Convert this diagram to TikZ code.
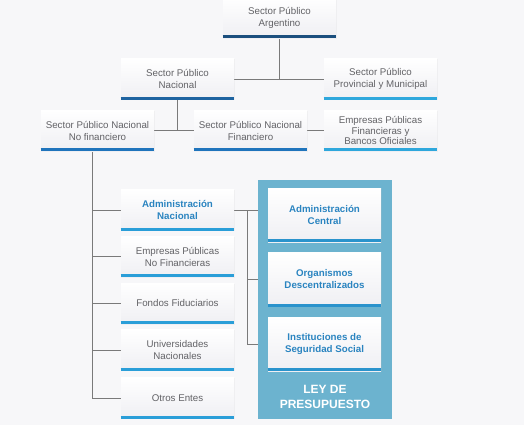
\documentclass[tikz,border=0pt]{standalone}
\usepackage{fontspec}
\setmainfont{Liberation Sans}
\usetikzlibrary{backgrounds,shadows}
\definecolor{bgc}{HTML}{F7F7F9}
\definecolor{boxb}{HTML}{EFEFF3}
\definecolor{txt}{HTML}{626266}
\definecolor{bluetxt}{HTML}{2A84C0}
\definecolor{linec}{HTML}{7A7A7A}
\definecolor{panelc}{HTML}{6CB3CF}
\definecolor{barnavy}{HTML}{1B4F7E}
\definecolor{bardark}{HTML}{1E63A0}
\definecolor{barmid}{HTML}{1F74BC}
\definecolor{barlight}{HTML}{2EA7DC}
\definecolor{barsky}{HTML}{2A9ED8}
\definecolor{barin}{HTML}{2A93CC}
\newcommand\barunder[2]{\draw[line width=2.25pt,draw=#2] ([yshift=1.125pt]#1.south west) -- ([yshift=1.125pt]#1.south east);}
\begin{document}
\begin{tikzpicture}[x=0.75pt,y=-0.75pt,
  box/.style={rectangle, minimum width=84.75pt, minimum height=30.75pt, inner sep=1pt, align=center,
    top color=white, bottom color=boxb, text=txt, font=\fontsize{7.3}{9}\selectfont,
    drop shadow={opacity=0.07, shadow xshift=0.5pt, shadow yshift=-0.5pt}},
  tall/.style={minimum height=40.5pt},
  bluet/.style={text=bluetxt, font=\fontsize{7.3}{9}\selectfont\bfseries},
  conn/.style={draw=linec, line width=0.75pt},
]
\useasboundingbox (0,0) rectangle (524,425);
% top levels
\node[box] (A) at (279.5,17.5) {Sector Público\\Argentino};
\node[box] (B) at (177.5,79) {Sector Público\\Nacional};
\node[box] (C) at (380.5,79) {Sector Público\\Provincial y Municipal};
\node[box] (D) at (97.5,130.5) {Sector Público Nacional\\No financiero};
\node[box] (E) at (250.5,130.5) {Sector Público Nacional\\Financiero};
\node[box, font=\fontsize{7.3}{8}\selectfont] (F) at (380.5,130.5) {Empresas Públicas\\Financieras y\\Bancos Oficiales};
% left column
\node[box, bluet] (G) at (177.5,210) {Administración\\Nacional};
\node[box] (H) at (177.5,256.5) {Empresas Públicas\\No Financieras};
\node[box] (I) at (177.5,303.5) {Fondos Fiduciarios};
\node[box] (J) at (177.5,350) {Universidades\\Nacionales};
\node[box] (K) at (177.5,398) {Otros Entes};
% panel
\node[rectangle, fill=panelc, minimum width=100.5pt, minimum height=179.25pt, inner sep=0pt] (P) at (325,299.5) {};
\node[box, tall, bluet, drop shadow={opacity=0.04, shadow xshift=0.4pt, shadow yshift=-0.4pt}] (L) at (324.5,215) {Administración\\Central};
\node[box, tall, bluet, drop shadow={opacity=0.04, shadow xshift=0.4pt, shadow yshift=-0.4pt}] (M) at (324.5,279.5) {Organismos\\Descentralizados};
\node[box, tall, bluet, drop shadow={opacity=0.04, shadow xshift=0.4pt, shadow yshift=-0.4pt}] (N) at (324.5,344) {Instituciones de\\Seguridad Social};
\node[text=white, font=\fontsize{9}{11.8}\selectfont\bfseries, align=center, inner sep=0pt] (ley) at (325,397) {LEY DE\\PRESUPUESTO};
% bars
\barunder{A}{barnavy}
\barunder{B}{bardark}
\barunder{C}{barlight}
\barunder{D}{barmid}
\barunder{E}{barmid}
\barunder{F}{barlight}
\barunder{G}{barsky}
\barunder{H}{barsky}
\barunder{I}{barsky}
\barunder{J}{barsky}
\barunder{K}{barsky}
\barunder{L}{barin}
\barunder{M}{barin}
\barunder{N}{barin}
% connectors
\begin{scope}[on background layer]
  \fill[bgc] (0,0) rectangle (524,425);
  \draw[conn] (A.south) -- (A.south |- B.east);
  \draw[conn] (B.east) -- (C.west);
  \draw[conn] (B.south) -- (B.south |- D.east);
  \draw[conn] (D.east) -- (E.west);
  \draw[conn] (E.east) -- (F.west);
  \coordinate (dj) at ([xshift=-3.4pt]D.south);
  \draw[conn] (dj) |- (K.west);
  \draw[conn] (dj |- G.west) -- (G.west);
  \draw[conn] (dj |- H.west) -- (H.west);
  \draw[conn] (dj |- I.west) -- (I.west);
  \draw[conn] (dj |- J.west) -- (J.west);
  \coordinate (gj) at (247,212);
  \draw[conn] (G.east) -- (G.east -| L.west);
  \draw[conn] (gj |- G.east) |- (N.west);
  \draw[conn] (gj |- M.west) -- (M.west);
\end{scope}
\end{tikzpicture}
\end{document}
